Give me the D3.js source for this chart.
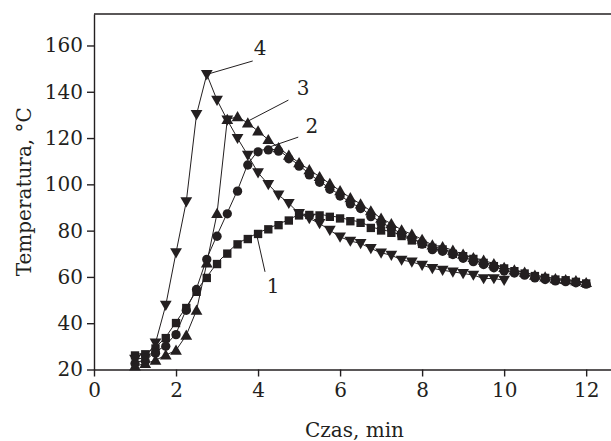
<!DOCTYPE html>
<html>
<head>
<meta charset="utf-8">
<script src="https://cdn.jsdelivr.net/npm/d3@7"></script>
<style>
  body { margin: 0; background: #fff; }
  text { font-family: "DejaVu Serif", serif; fill: #231f20; }
</style>
</head>
<body>
<div id="chart"></div>
<script>
// czas pomiaru co 0.25 min
const timeStep = 0.25;
const timeStart = 1;

// seria 1 - kwadraty
const series1 = [26.5, 27, 29.5, 34, 40.5, 47, 54, 60, 66, 70.5, 74.5, 76.8, 79, 81, 82.8, 84.8,
  87, 87.2, 87, 86.4, 85.7, 84.5, 83.8, 81.6, 80.5, 79.5, 78.1, 76.2, 74.7, 73, 72.3, 70.4,
  69.4, 68.2, 66.5, 65.1, 64.1, 62.9, 61.9, 60.8, 60, 59.3, 59, 58.3, 57.6];
// seria 2 - kółka
const series2 = [23, 24, 27.5, 30.5, 35.5, 46, 55, 68, 78, 87.7, 97.5, 108.8, 114.5, 115.3, 114.8,
  111.5, 108.3, 104.5, 101.3, 98.3, 95.4, 92, 90, 86.5, 83.5, 81.3, 78.5, 76.8, 74.6, 72.2, 71.5,
  70.1, 68.5, 67, 65.8, 64.4, 63, 62.1, 61.2, 60, 59.3, 58.7, 58.4, 57.9, 57.3];
// seria 3 - trójkąty w górę
const series3 = [21.5, 22.5, 24, 26.2, 28.3, 34.8, 45.6, 66, 87.4, 128, 129.2, 126.5, 123, 119.3,
  115.8, 112.5, 109.3, 106.3, 103.3, 100.3, 97.2, 94.2, 91.5, 88.5, 85.3, 83, 80.3, 78.4, 76.2,
  73.8, 73, 71.5, 69.8, 68.3, 67.2, 65.7, 64, 63, 62, 60.7, 59.9, 59.2, 58.8, 58.3, 57.5];
// seria 4 - trójkąty w dół
const series4 = [24.5, 25, 31.5, 47.8, 70.5, 92.5, 130.2, 147.5, 136.4, 127.8, 119.9, 112.6, 105,
  100, 95.4, 91.8, 87.4, 85.3, 83.1, 80.2, 77.3, 75.5, 74.5, 72.3, 70.4, 69.4, 67.3, 66.5, 65.1,
  63.7, 62.9, 62.2, 61.5, 60.8, 59.3, 59.3, 58.6];

const xTicks = [0, 2, 4, 6, 8, 10, 12];
const yTicks = [20, 40, 60, 80, 100, 120, 140, 160];

// etykiety serii z liniami odniesienia (w jednostkach danych)
const labelNames = ["1", "2", "3", "4"];
const labelAnchorT = [3.97, 4.29, 3.72, 2.75];
const labelAnchorV = [78, 116.2, 127, 147.5];
const labelLineEndT = [4.17, 4.98, 4.74, 3.87];
const labelLineEndV = [62.2, 120.4, 136.4, 153.3];
const labelTextT = [4.37, 5.31, 5.1, 4.05];
const labelTextV = [56, 125, 141.5, 158.7];

const width = 611;
const height = 441;

const svg = d3.select("#chart")
  .append("svg")
  .attr("width", width)
  .attr("height", height);

const x = d3.scaleLinear().domain([0, 12.63]).range([94, 612]);
const y = d3.scaleLinear().domain([20, 173.6]).range([369.5, 14]);

const ink = "#231f20";

// osie
const xAxis = svg.append("g")
  .attr("transform", `translate(0,${y(20)})`)
  .call(d3.axisBottom(x).tickValues(xTicks).tickSize(7).tickPadding(6).tickSizeOuter(0));
const yAxis = svg.append("g")
  .attr("transform", `translate(${x(0)},0)`)
  .call(d3.axisLeft(y).tickValues(yTicks).tickSize(7).tickPadding(4).tickSizeOuter(0));

[xAxis, yAxis].forEach(g => {
  g.selectAll("path, line").attr("stroke", ink).attr("stroke-width", 1.4);
  g.selectAll("text").attr("font-size", 20).attr("fill", ink)
    .style("font-family", '"DejaVu Serif", serif');
});

// górna krawędź ramki
svg.append("line")
  .attr("x1", x(0)).attr("x2", width)
  .attr("y1", y(173.6)).attr("y2", y(173.6))
  .attr("stroke", ink).attr("stroke-width", 1.4);

// tytuły osi
svg.append("text")
  .attr("x", (x(0) + width) / 2 + 2)
  .attr("y", 437)
  .attr("text-anchor", "middle")
  .attr("font-size", 20)
  .text("Czas, min");

svg.append("text")
  .attr("transform", `translate(31,${(y(20) + y(173.6)) / 2}) rotate(-90)`)
  .attr("text-anchor", "middle")
  .attr("font-size", 20)
  .text("Temperatura, °C");

const toPoints = vals => vals.map((v, i) => ({ t: timeStart + i * timeStep, v: v }));

const line = d3.line()
  .x(d => x(d.t))
  .y(d => y(d.v));

const allSeries = [
  { pts: toPoints(series1), shape: d3.symbolSquare, size: 70, rot: 0 },
  { pts: toPoints(series2), shape: d3.symbolCircle, size: 68, rot: 0 },
  { pts: toPoints(series3), shape: d3.symbolTriangle, size: 60, rot: 0 },
  { pts: toPoints(series4), shape: d3.symbolTriangle, size: 60, rot: 180 }
];

// linie łączące punkty
allSeries.forEach(s => {
  svg.append("path")
    .datum(s.pts)
    .attr("fill", "none")
    .attr("stroke", ink)
    .attr("stroke-width", 1)
    .attr("d", line);
});

// znaczniki
allSeries.forEach(s => {
  svg.append("g")
    .selectAll("path")
    .data(s.pts)
    .enter().append("path")
    .attr("d", d3.symbol().type(s.shape).size(s.size))
    .attr("transform", d => `translate(${x(d.t)},${y(d.v) + (s.rot ? -1 : 1)}) rotate(${s.rot})`)
    .attr("fill", ink);
});

// etykiety serii
labelNames.forEach((name, i) => {
  svg.append("line")
    .attr("x1", x(labelAnchorT[i])).attr("y1", y(labelAnchorV[i]))
    .attr("x2", x(labelLineEndT[i])).attr("y2", y(labelLineEndV[i]))
    .attr("stroke", ink).attr("stroke-width", 1);
  svg.append("text")
    .attr("x", x(labelTextT[i]))
    .attr("y", y(labelTextV[i]))
    .attr("text-anchor", "middle")
    .attr("dy", "0.35em")
    .attr("font-size", 20)
    .text(name);
});
</script>
</body>
</html>
